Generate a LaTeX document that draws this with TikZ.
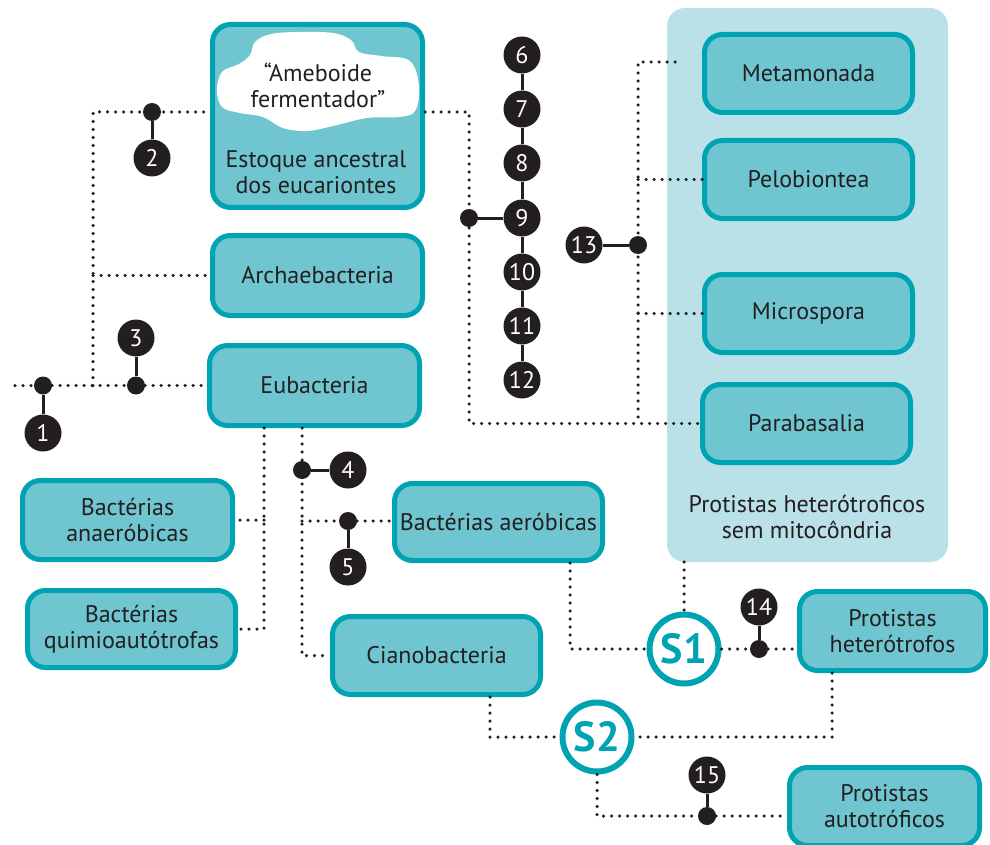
\documentclass[tikz,border=0pt]{standalone}
\usepackage{fontspec}
\setmainfont{PT Sans}
\definecolor{ink}{HTML}{231F20}
\definecolor{boxfill}{HTML}{6FC6D1}
\definecolor{boxline}{HTML}{00A3B2}
\definecolor{panelfill}{HTML}{B9E1E7}
\tikzset{
  box/.style={draw=boxline, fill=boxfill, line width=5pt, rounded corners=18pt,
    text=ink, align=center, inner sep=0pt, font=\fontsize{24}{26}\selectfont},
  dotline/.style={draw=ink, line width=3.5pt, line cap=round, dash pattern=on 0pt off 8pt},
  tag/.style={circle, fill=ink, text=white, minimum size=37pt, inner sep=0pt,
    font=\fontsize{24}{24}\selectfont},
  knot/.style={circle, fill=ink, minimum size=18pt, inner sep=0pt},
  stem/.style={draw=ink, line width=3pt},
  symb/.style={circle, draw=boxline, fill=white, line width=6pt, minimum size=69pt,
    inner sep=0pt, text=boxline, font=\bfseries\fontsize{42}{42}\selectfont},
  plain/.style={text=ink, align=center, inner sep=0pt, font=\fontsize{24}{26}\selectfont}
}
\begin{document}
\begin{tikzpicture}[x=1pt,y=-1pt]
\useasboundingbox (0,0) rectangle (990,845);

% panel of protists without mitochondria
\fill[panelfill, rounded corners=18pt] (667,8) rectangle (948,562);
\node[plain] (cap) at (807,517) {Protistas heterótroficos\\sem mitocôndria};

% boxes
\node[box, minimum width=210pt, minimum height=183pt] (estoque) at (317.5,116) {};
\node[box, minimum width=210pt, minimum height=80pt] (arch) at (317.5,275.5) {Archaebacteria};
\node[box, minimum width=210pt, minimum height=80pt] (eub) at (314.5,385.5) {Eubacteria};
\node[box, minimum width=208pt, minimum height=78pt] (meta) at (808.5,73.5) {Metamonada};
\node[box, minimum width=208pt, minimum height=78pt] (pelo) at (808.5,179.5) {Pelobiontea};
\node[box, minimum width=208pt, minimum height=78pt] (micro) at (808.5,313.5) {Microspora};
\node[box, minimum width=208pt, minimum height=78pt] (para) at (806.5,423.5) {Parabasalia};
\node[box, minimum width=210pt, minimum height=79pt] (anaer) at (127.5,520) {Bactérias\\anaeróbicas};
\node[box, minimum width=208pt, minimum height=77pt] (quimio) at (131.5,629) {Bactérias\\quimioautótrofas};
\node[box, minimum width=208pt, minimum height=77pt] (aer) at (498.5,522) {Bactérias aeróbicas};
\node[box, minimum width=208pt, minimum height=78pt] (ciano) at (436.5,655.5) {Cianobacteria};
\node[box, minimum width=186pt, minimum height=79pt] (phet) at (892.5,631) {Protistas\\heterótrofos};
\node[box, minimum width=190pt, minimum height=78pt] (paut) at (884.5,806.5) {Protistas\\autotróficos};

% cloud inside the ancestral stock
\fill[white] plot[smooth cycle, tension=0.6] coordinates {
  (255,42) (271,34) (300,32) (333,33) (351,40) (359,52) (381,56) (410,61)
  (419,87) (415,111) (399,117) (367,118) (333,126) (307,131) (283,128)
  (263,117) (240,113) (222,107) (217,90) (222,72) (239,64) (250,55)};
\node[plain] (amoeba) at (318,85) {“Ameboide\\fermentador”};
\node[plain] (stock) at (316,172.5) {Estoque ancestral\\dos eucariontes};

% junction coordinates
\coordinate (root) at (15,385.5);
\coordinate (ja) at (93,385.5);
\coordinate (jtop) at (93,112);
\coordinate (jr) at (469,112);
\coordinate (jp) at (638,62);
\coordinate (jpe) at (675,62);
\coordinate (eb1) at (264,428);
\coordinate (eb2) at (302,428);
\coordinate (jaer) at (302,521);
\coordinate (aerb) at (570,563);
\coordinate (panb) at (684,562);
\coordinate (phb) at (832,673);
\coordinate (cib) at (490,697);

% symbiosis markers
\node[symb] (s1) at (684,649) {S1};
\node[symb] (s2) at (597,737) {S2};

% dots on the branches
\node[knot] (d1) at (43,385.5) {};
\node[knot] (d2) at (152,112) {};
\node[knot] (d3) at (136,385.5) {};
\node[knot] (d4) at (302,470) {};
\node[knot] (d5) at (348,521) {};
\node[knot] (d9) at (469,218) {};
\node[knot] (d13) at (638,245) {};
\node[knot] (d14) at (759,649) {};
\node[knot] (d15) at (707,816) {};

% dotted branches
\path[dotline] (root) -- (d1) -- (d3) -- (eub.west);
\path[dotline] (ja) -- (jtop) -- (estoque.west |- jtop);
\path[dotline] (ja |- arch.west) -- (arch.west);
\path[dotline] (estoque.east |- jr) -- (jr) -- (jr |- para.west) -- (para.west);
\path[dotline] (jpe) -- (jp) -- (jp |- para.west);
\path[dotline] (jp |- pelo.west) -- (pelo.west);
\path[dotline] (jp |- micro.west) -- (micro.west);
\path[dotline] (eb1) |- (quimio.east);
\path[dotline] (eb1 |- anaer.east) -- (anaer.east);
\path[dotline] (eb2) |- (ciano.west);
\path[dotline] (jaer) -- (d5) -- (d5 -| aer.west);
\path[dotline] (aerb) |- (s1.west);
\path[dotline] (panb) -- (s1.north);
\path[dotline] (s1.east) -- (d14) -- (d14 -| phet.west);
\path[dotline] (phb) |- (s2.east);
\path[dotline] (cib) |- (s2.west);
\path[dotline] (s2.south) |- (d15) -- (d15 -| paut.west);

% numbered tags
\node[tag] (n1) at (43,433) {1};
\node[tag] (n2) at (152,158) {2};
\node[tag] (n3) at (136,338) {3};
\node[tag] (n4) at (348,470) {4};
\node[tag] (n5) at (348,567) {5};
\node[tag] (n6) at (522,55) {6};
\node[tag] (n7) at (522,109) {7};
\node[tag] (n8) at (522,163) {8};
\node[tag] (n9) at (522,218) {9};
\node[tag] (n10) at (522,272) {10};
\node[tag] (n11) at (522,326) {11};
\node[tag] (n12) at (522,380) {12};
\node[tag] (n13) at (584,245) {13};
\node[tag] (n14) at (759,607) {14};
\node[tag] (n15) at (707,775) {15};

% solid stems
\path[stem] (d1) -- (n1);
\path[stem] (d2) -- (n2);
\path[stem] (d3) -- (n3);
\path[stem] (d4) -- (n4);
\path[stem] (d5) -- (n5);
\path[stem] (d9) -- (n9);
\path[stem] (d13) -- (n13);
\path[stem] (d14) -- (n14);
\path[stem] (d15) -- (n15);
\path[stem] (n6) -- (n7) -- (n8) -- (n9) -- (n10) -- (n11) -- (n12);
\end{tikzpicture}
\end{document}
